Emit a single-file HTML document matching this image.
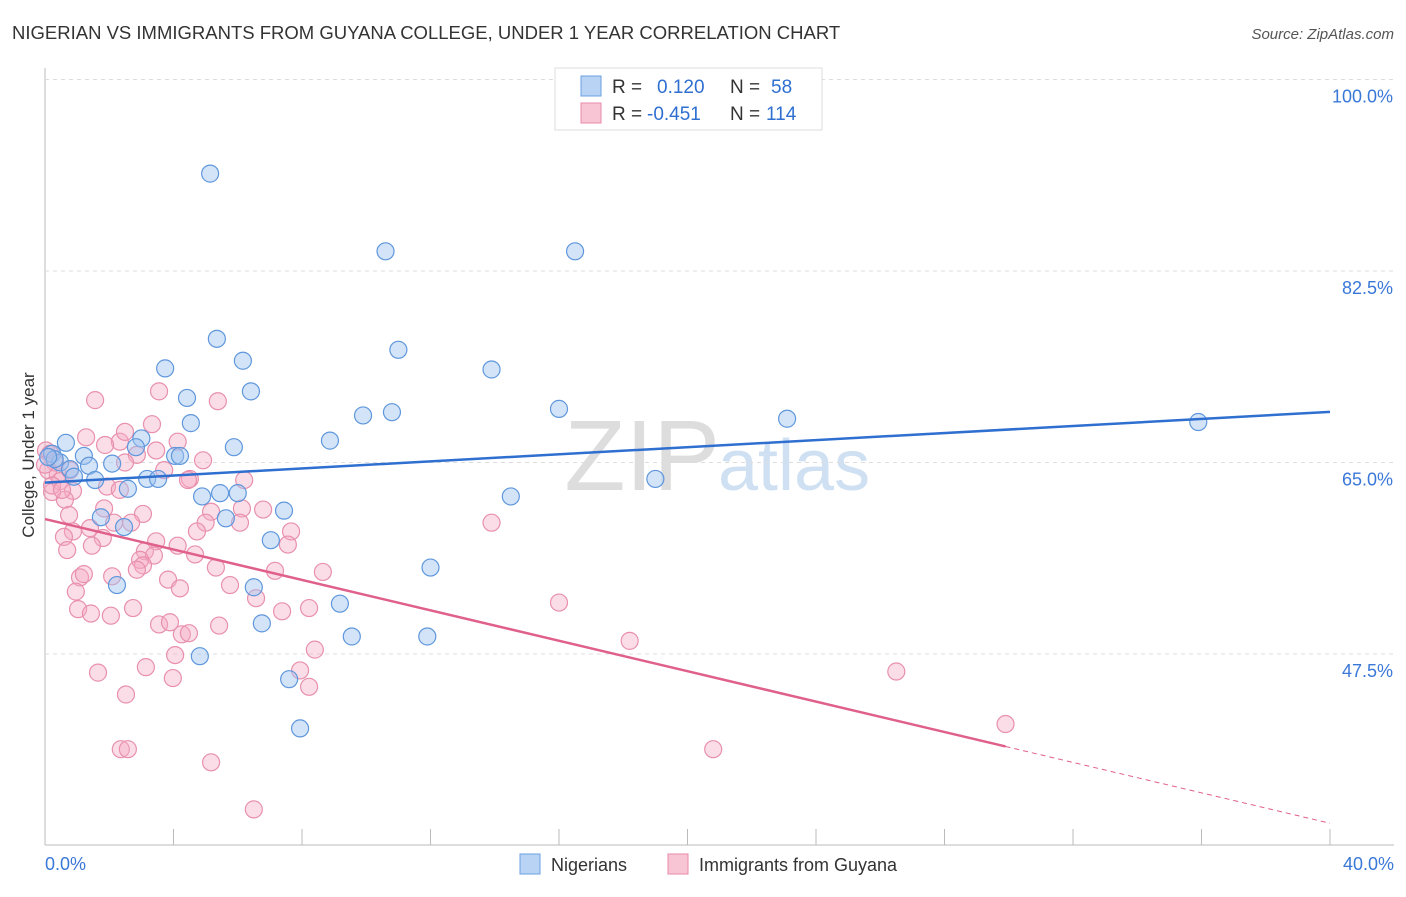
<!DOCTYPE html>
<html><head><meta charset="utf-8"><style>
body{margin:0;background:#fff;font-family:"Liberation Sans",sans-serif;}
svg text{font-family:"Liberation Sans",sans-serif;}
</style></head><body>
<svg id="c" width="1406" height="892">
<text x="12" y="39" font-size="18.5" fill="#333">NIGERIAN VS IMMIGRANTS FROM GUYANA COLLEGE, UNDER 1 YEAR CORRELATION CHART</text>
<text x="1394" y="39" font-size="15" fill="#555" text-anchor="end" font-style="italic">Source: ZipAtlas.com</text>
<text x="720" y="490" font-size="100" fill="#ddd" text-anchor="end" font-family="Liberation Serif">ZIP</text>
<text x="718" y="490" font-size="72" fill="#cfe0f3">atlas</text>
<text x="34" y="455" font-size="17" fill="#333" text-anchor="middle" transform="rotate(-90 34 455)">College, Under 1 year</text>
<g id="grid"></g><g id="pts"></g><g id="lines"></g>
<g>
<rect x="555" y="68" width="267" height="62" fill="#fff" stroke="#ddd"/>
<rect x="581" y="76" width="20" height="20" fill="#b8d3f3" stroke="#6a9fe0"/>
<rect x="581" y="103" width="20" height="20" fill="#f8c5d5" stroke="#e88aa8"/>
<text x="612" y="93" font-size="19" fill="#333">R = </text><text x="657" y="93" font-size="19" fill="#2f6fd0">0.120</text>
<text x="730" y="93" font-size="19" fill="#333">N = </text><text x="771" y="93" font-size="19" fill="#2f6fd0">58</text>
<text x="612" y="120" font-size="19" fill="#333">R = </text><text x="647" y="120" font-size="19" fill="#2f6fd0">-0.451</text>
<text x="730" y="120" font-size="19" fill="#333">N = </text><text x="766" y="120" font-size="19" fill="#2f6fd0">114</text>
</g>
<g>
<rect x="520" y="854" width="20" height="20" fill="#b8d3f3" stroke="#6a9fe0"/>
<text x="551" y="871" font-size="18" fill="#333">Nigerians</text>
<rect x="668" y="854" width="20" height="20" fill="#f8c5d5" stroke="#e88aa8"/>
<text x="699" y="871" font-size="18" fill="#333">Immigrants from Guyana</text>
</g>
</svg>
<script>
const xTicks=[0,4,8,12,16,20,24,28,32,36,40];
const yTicks=[100,82.5,65,47.5];
const blueX=[5.14,10.6,16.5,5.35,11.0,6.16,3.74,13.9,6.41,4.42,16.0,9.9,10.8,23.1,35.9,4.54,3.0,8.87,5.88,0.65,2.83,4.05,4.2,1.21,0.22,0.47,2.09,1.37,3.18,3.52,1.56,19.0,2.58,4.89,5.45,6.0,14.5,7.44,1.74,5.63,2.46,7.03,12.0,2.24,6.5,9.18,6.75,9.55,11.9,4.82,7.6,7.94,0.3,0.78,0.1,0.9];
const blueY=[91.4,84.3,84.3,76.3,75.3,74.3,73.6,73.5,71.5,70.9,69.9,69.3,69.6,69.0,68.7,68.6,67.2,67.0,66.4,66.8,66.4,65.6,65.6,65.6,65.8,65.0,64.9,64.7,63.5,63.5,63.4,63.5,62.6,61.9,62.2,62.2,61.9,60.6,60.0,59.9,59.1,57.9,55.4,53.8,53.6,52.1,50.3,49.1,49.1,47.3,45.2,40.7,65.3,64.4,65.5,63.7];
const pinkX=[1.56,3.55,5.38,3.33,1.28,4.13,2.33,1.87,2.86,4.92,2.49,3.71,4.51,0.4,1.93,2.33,0.22,0.87,0.62,1.84,3.05,5.17,6.13,6.79,0.75,2.68,2.15,5.0,6.07,13.9,1.4,0.87,4.73,7.66,1.8,0.59,3.46,7.56,1.46,4.13,0.69,3.11,3.39,4.67,2.96,3.05,5.32,2.86,7.16,8.65,2.09,1.09,1.21,3.83,4.2,5.76,0.96,6.57,16.0,1.03,1.43,2.74,2.05,7.38,8.22,3.55,3.89,5.42,4.26,4.48,18.2,8.4,4.05,3.14,7.94,1.65,26.5,3.98,8.22,2.52,29.9,2.36,2.58,20.8,5.17,6.5,0.03,0.16,0.31,0.1,0.47,0.22,0.53,0.78,0,2.49,6.2,4.45,3.46];
const pinkY=[70.7,71.5,70.6,68.5,67.3,66.9,66.9,66.6,65.7,65.2,65.0,64.3,63.5,63.9,62.8,62.5,62.3,62.4,61.6,60.8,60.3,60.5,60.8,60.7,60.2,59.5,59.5,59.5,59.5,59.5,59.0,58.7,58.7,58.7,58.1,58.2,57.8,57.5,57.4,57.4,57.0,56.9,56.5,56.6,56.1,55.6,55.4,55.2,55.1,55.0,54.6,54.5,54.8,54.3,53.5,53.8,53.2,52.6,52.2,51.6,51.2,51.7,51.0,51.4,51.7,50.2,50.4,50.1,49.3,49.4,48.7,47.9,47.4,46.3,46.0,45.8,45.9,45.3,44.5,43.8,41.1,38.8,38.8,38.8,37.6,33.3,66.1,65.8,65.0,64.3,63.3,62.9,62.5,64.3,64.8,67.8,63.4,63.4,66.1];
const NS='http://www.w3.org/2000/svg';
const X=v=>45+v/40*1285, Y=v=>79.5+(100-v)/17.5*191.5;
function mk(t,a,p){const e=document.createElementNS(NS,t);for(const k in a)e.setAttribute(k,a[k]);p.appendChild(e);return e;}
const grid=document.getElementById('grid'),pts=document.getElementById('pts'),lines=document.getElementById('lines');
let ax=mk('line',{x1:45,y1:68,x2:45,y2:845,stroke:'#bbb'},grid);


let bx=mk('line',{x1:45,y1:845,x2:1394,y2:845,stroke:'#bbb'},grid);


yTicks.forEach(v=>{
 const g=mk('line',{x1:45,y1:Y(v),x2:1394,y2:Y(v),stroke:'#ddd','stroke-dasharray':'4,4'},grid);
 
 
 const t=mk('text',{x:1393,y:Y(v)+23,'font-size':18,fill:'#3a78d8','text-anchor':'end'},grid);t.textContent=v.toFixed(1)+'%';
 
 
});
xTicks.forEach(v=>{
 const l=mk('line',{x1:X(v),y1:829,x2:X(v),y2:845,stroke:'#bbb'},grid);
 
 
});
[[0,'start',45],[40,'end',1394]].forEach(([v,a,x])=>{const t=mk('text',{x:x,y:870,'font-size':18,fill:'#3a78d8','text-anchor':a},grid);t.textContent=v.toFixed(1)+'%';
 
 });
function scatter(xs,ys,fill,stroke,name){xs.forEach((x,i)=>{const c=mk('circle',{cx:X(x),cy:Y(ys[i]),r:8.5,fill:fill,stroke:stroke,'stroke-width':1.2},pts);
 
 });}
scatter(pinkX,pinkY,'rgba(244,170,195,0.4)','#e890ad','guyana-point');
scatter(blueX,blueY,'rgba(160,196,240,0.45)','#5f97dc','nigerian-point');
function fit(xs,ys){const n=xs.length;let mx=0,my=0;for(let i=0;i<n;i++){mx+=xs[i];my+=ys[i];}mx/=n;my/=n;let sxy=0,sxx=0;for(let i=0;i<n;i++){sxy+=(xs[i]-mx)*(ys[i]-my);sxx+=(xs[i]-mx)**2;}const b=sxy/sxx;return [my-b*mx,b];}
const [ba,bb]=fit(blueX,blueY);
let bl=mk('line',{x1:X(0),y1:Y(ba),x2:X(40),y2:Y(ba+bb*40),stroke:'#2f6fd0','stroke-width':2.5},lines);


const [pa,pb]=fit(pinkX,pinkY);const pm=Math.max(...pinkX);
let pl=mk('line',{x1:X(0),y1:Y(pa),x2:X(pm),y2:Y(pa+pb*pm),stroke:'#e0608c','stroke-width':2.5},lines);


let pd=mk('line',{x1:X(pm),y1:Y(pa+pb*pm),x2:X(40),y2:Y(pa+pb*40),stroke:'#e0608c','stroke-width':1,'stroke-dasharray':'5,4'},lines);


</script>
</body></html>
